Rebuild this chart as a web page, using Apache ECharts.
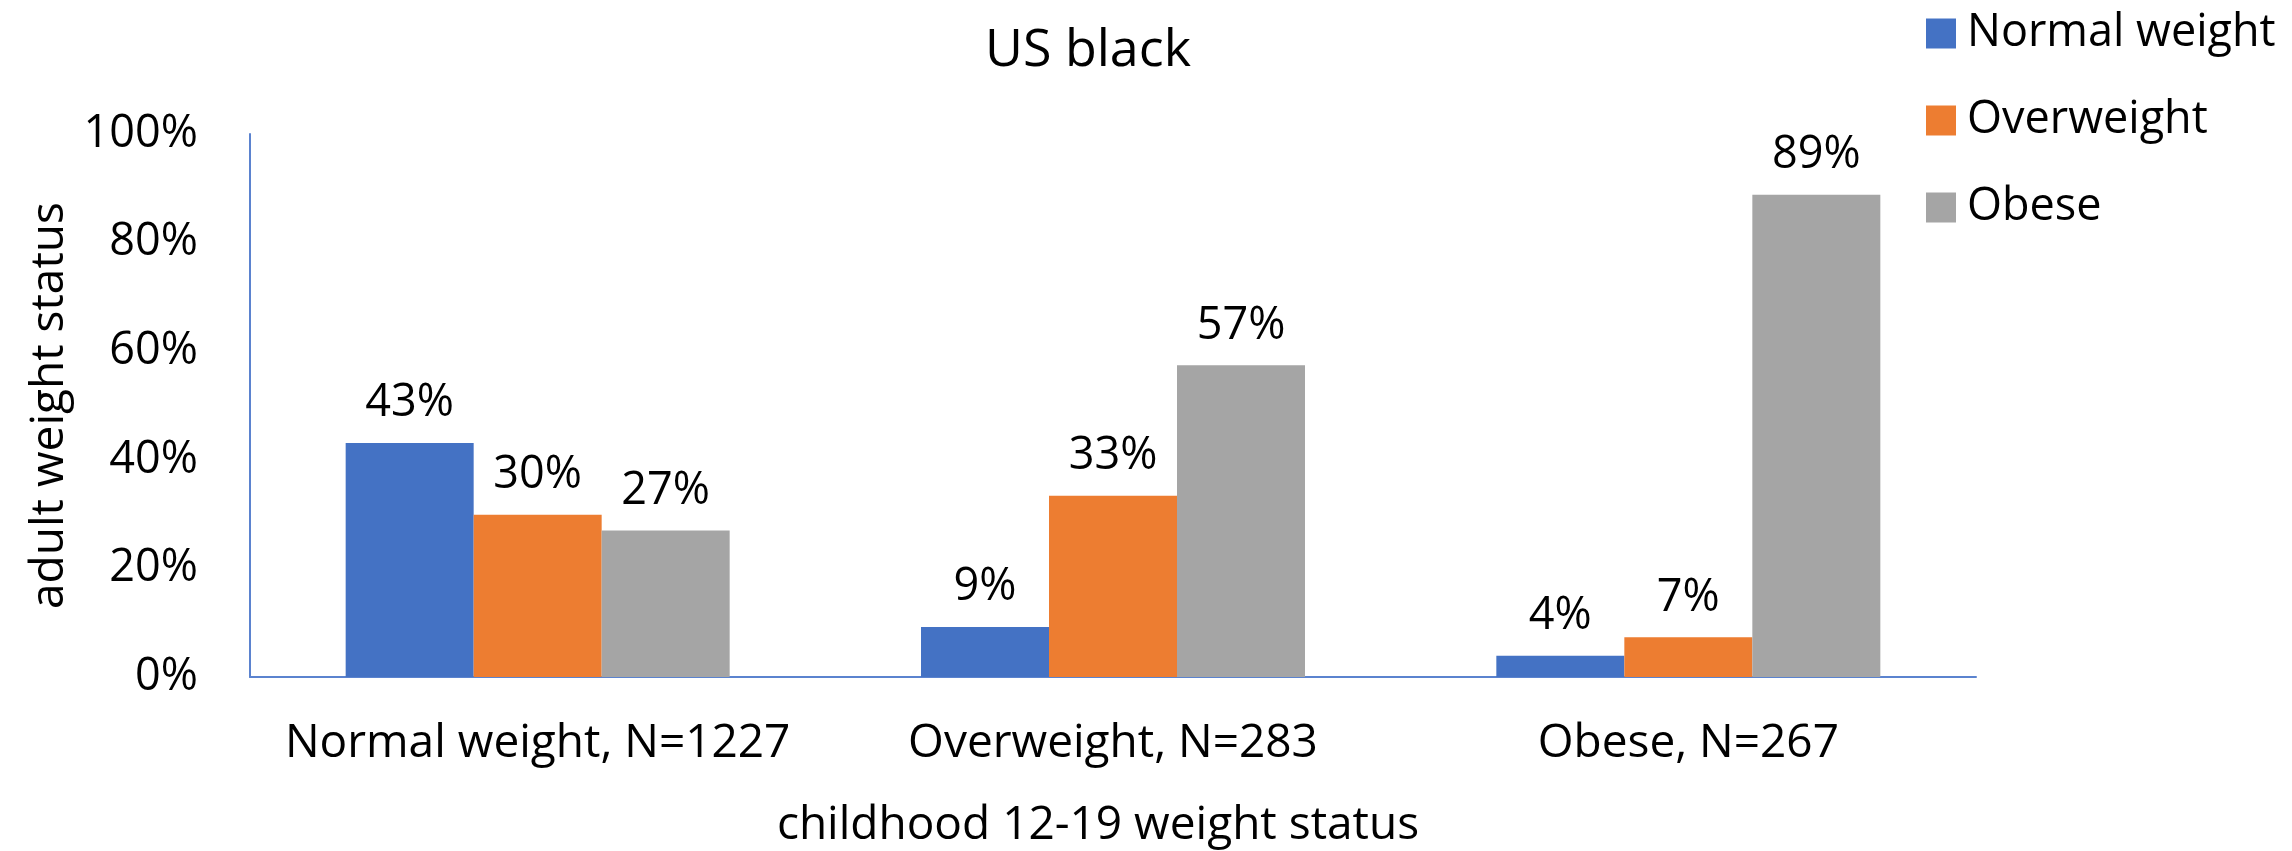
<!DOCTYPE html>
<html>
<head>
<meta charset="utf-8">
<title>US black</title>
<script src="https://cdn.jsdelivr.net/npm/echarts@6/dist/echarts.min.js"></script>
<style>
  html, body { margin: 0; padding: 0; background: #fff; }
  #main { width: 2292px; height: 851px; }
</style>
</head>
<body>
<div id="main"></div>
<script>
// childhood (12-19) weight status groups
const categories = ['Normal weight, N=1227', 'Overweight, N=283', 'Obese, N=267'];
// adult weight status shares, percent
const normalWeight = [43.1, 9.2, 3.9];
const overweight = [29.9, 33.4, 7.3];
const obese = [27.0, 57.4, 88.8];
const seriesNames = ['Normal weight', 'Overweight', 'Obese'];
const colors = ['#4472C4', '#ED7D31', '#A5A5A5'];

const font = "'Open Sans', sans-serif";
const axisBlue = '#5B83CF';

const chart = echarts.init(document.getElementById('main'));

function barSeries(name, data, color) {
    return {
        name: name,
        type: 'bar',
        data: data,
        barWidth: 128,
        barGap: '0%',
        itemStyle: { color: color },
        label: {
            show: true,
            position: 'top',
            distance: 17,
            color: '#000',
            fontFamily: font,
            fontSize: 45,
            formatter: p => Math.round(p.value) + '%'
        }
    };
}

chart.setOption({
    animation: false,
    backgroundColor: '#fff',
    textStyle: { fontFamily: font, color: '#000' },
    title: {
        text: 'US black',
        left: 980,
        top: 20,
        textStyle: { fontFamily: font, fontSize: 52, fontWeight: 'normal', color: '#000' }
    },
    legend: {
        orient: 'vertical',
        left: 1921,
        top: 6,
        itemWidth: 30,
        itemHeight: 30,
        itemGap: 42,
        icon: 'rect',
        textStyle: { fontFamily: font, fontSize: 45, color: '#000', padding: [0, 0, 0, 6] },
        data: seriesNames
    },
    grid: {
        left: 250,
        right: 316,
        top: 134,
        bottom: 174,
        containLabel: false,
        outerBoundsMode: 'none'
    },
    xAxis: {
        type: 'category',
        data: categories,
        axisLine: { lineStyle: { color: axisBlue, width: 2 } },
        axisTick: { show: false },
        axisLabel: { interval: 0, fontFamily: font, fontSize: 46, color: '#000', margin: 44 },
        name: 'childhood 12-19 weight status',
        nameLocation: 'middle',
        nameGap: 126,
        nameTextStyle: { fontFamily: font, fontSize: 46, color: '#000', padding: [0, 30, 0, 0] }
    },
    yAxis: {
        type: 'value',
        min: 0,
        max: 100,
        interval: 20,
        axisLine: { show: true, lineStyle: { color: axisBlue, width: 2 } },
        axisTick: { show: false },
        splitLine: { show: false },
        axisLabel: { fontFamily: font, fontSize: 45, color: '#000', margin: 52, formatter: '{value}%' },
        name: 'adult weight status',
        nameLocation: 'middle',
        nameGap: 172,
        nameTextStyle: { fontFamily: font, fontSize: 46, color: '#000' }
    },
    series: [
        barSeries(seriesNames[0], normalWeight, colors[0]),
        barSeries(seriesNames[1], overweight, colors[1]),
        barSeries(seriesNames[2], obese, colors[2])
    ]
});
</script>
</body>
</html>
